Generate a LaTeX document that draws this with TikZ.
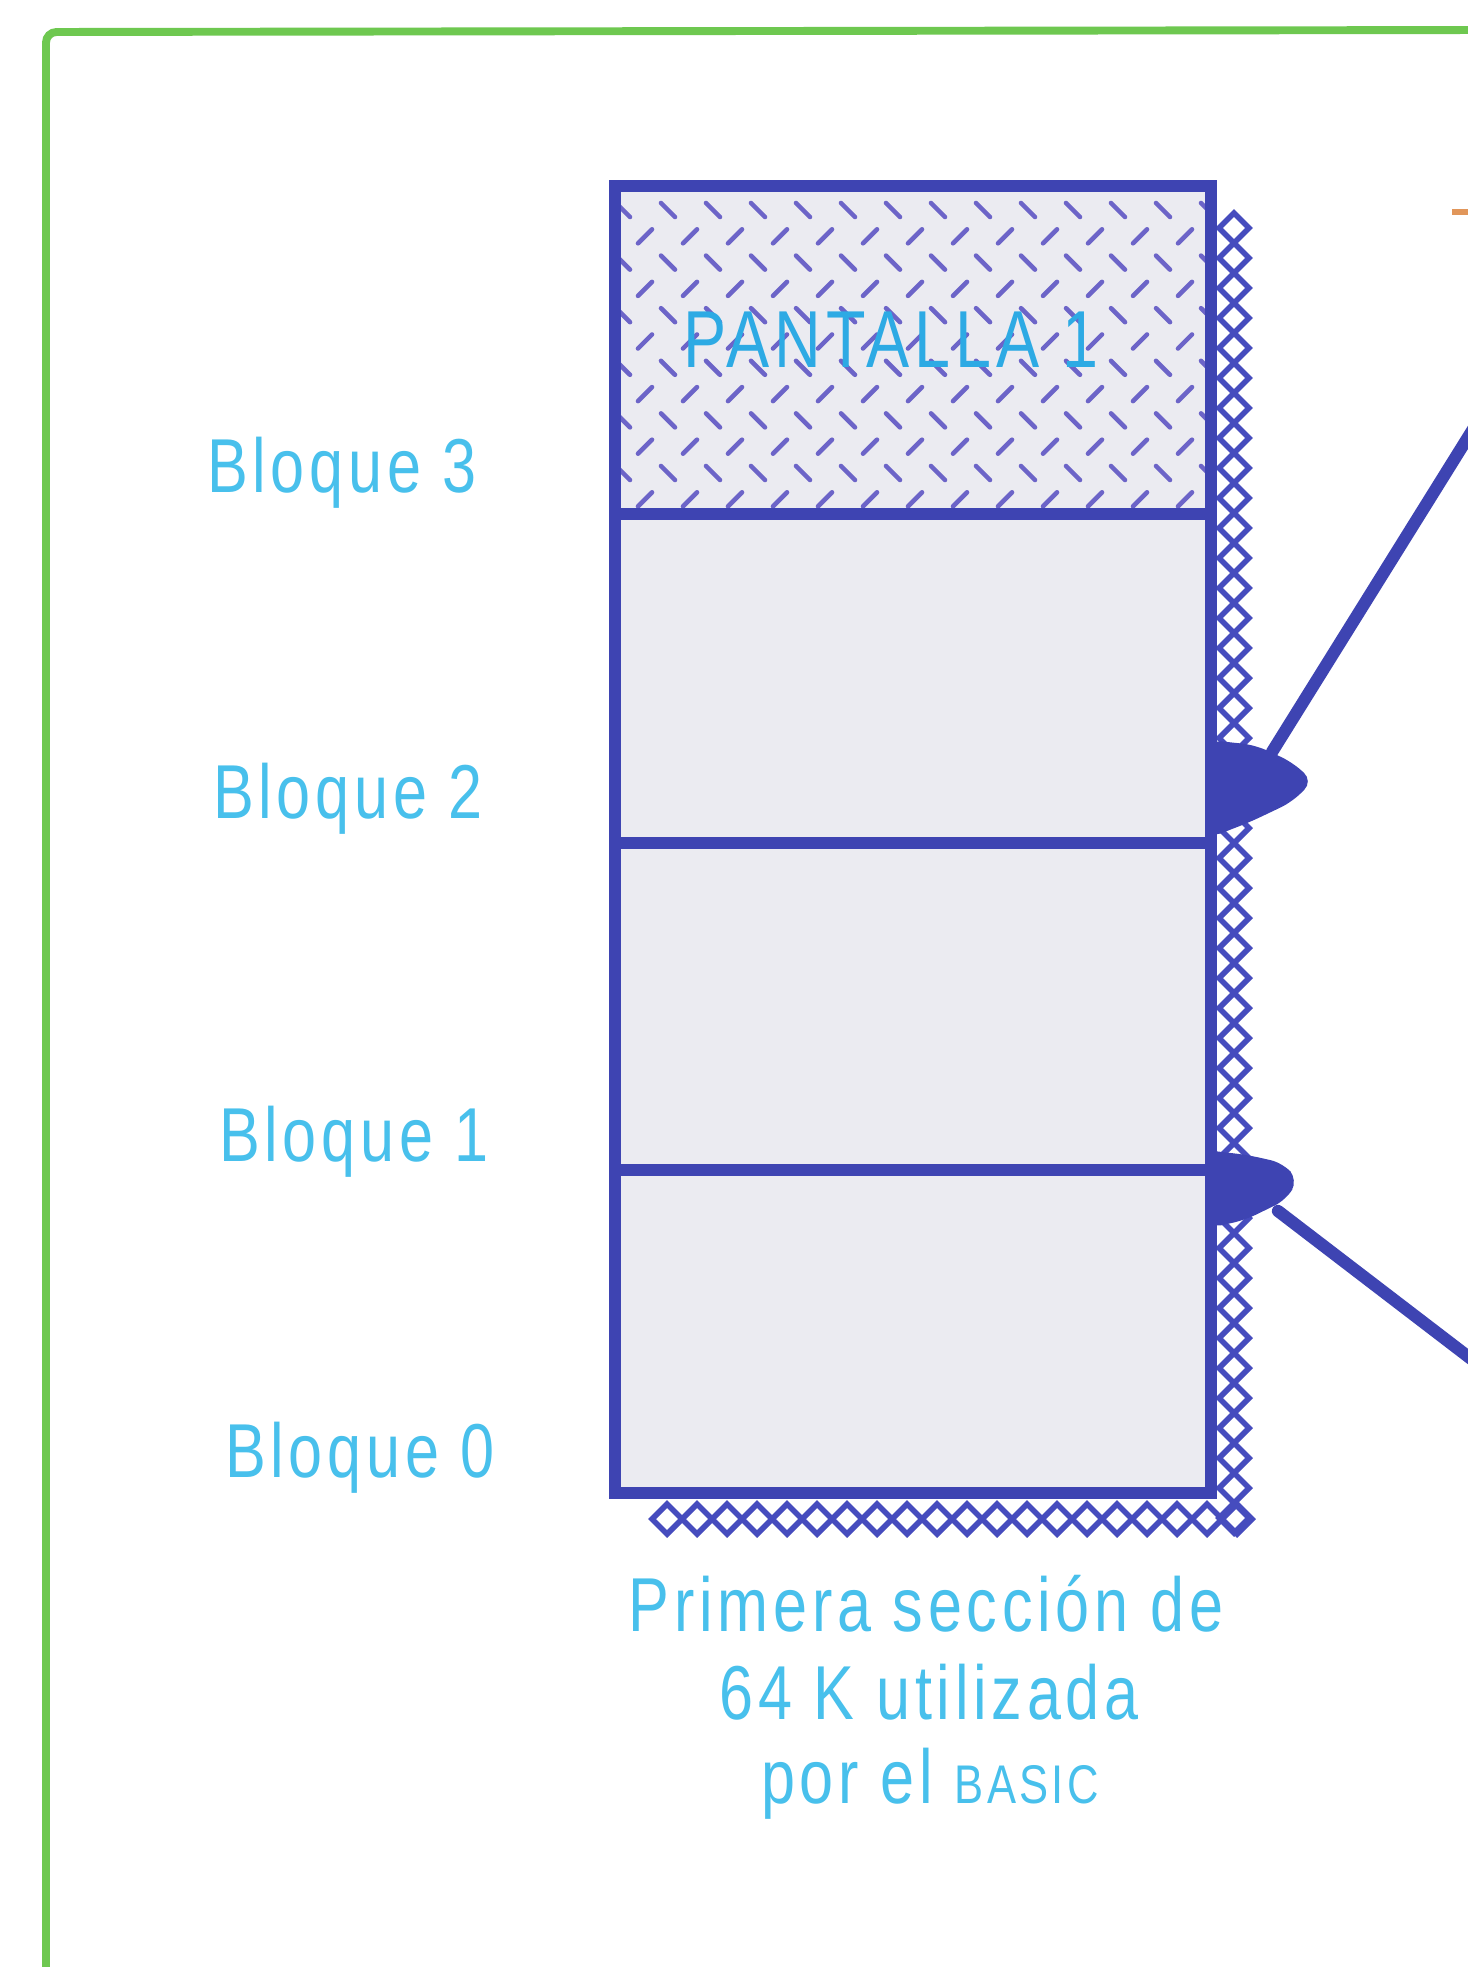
\documentclass[tikz,border=0pt]{standalone}
\usepackage{fontspec}
\setmainfont{Liberation Sans}[FakeStretch=0.8,LetterSpace=6.2]
\definecolor{txtcyan}{RGB}{72,192,236}
\definecolor{scrcyan}{RGB}{45,170,228}
\definecolor{boxblue}{RGB}{62,68,178}
\definecolor{hatchblue}{RGB}{108,100,200}
\definecolor{chainblue}{RGB}{70,76,190}
\definecolor{blockfill}{RGB}{235,235,241}
\definecolor{framegreen}{RGB}{110,200,80}
\definecolor{markorange}{RGB}{225,150,90}
\begin{document}
\begin{tikzpicture}[x=0.02cm,y=-0.02cm,
  frame/.style={draw=framegreen,line width=4.5pt,rounded corners=6pt},
  boxline/.style={draw=boxblue,line width=7pt},
  lbl/.style={text=txtcyan,font=\fontsize{43.5pt}{50pt}\selectfont,anchor=base,inner sep=0pt},
  hatchline/.style={draw=hatchblue,line width=2.6pt,line cap=round},
  chain/.style={draw=chainblue,line width=3.2pt},
  arrowline/.style={draw=boxblue,line width=7pt,line cap=round},
  blob/.style={fill=boxblue,rounded corners=7pt}
]
\useasboundingbox (0,0) rectangle (1467,1967);
\fill[white] (0,0) rectangle (1467,1967);

% green frame
\draw[frame] (46,1995) -- (46,32) -- (1495,30);
% orange mark
\draw[markorange,line width=3.5pt] (1452,212) -- (1480,212);

% shadow chain (right and bottom)
\foreach \i in {0,...,43}
  \draw[chain] (1219,{228+30*\i}) -- ++(15,-15) -- ++(15,15) -- ++(-15,15) -- cycle;
\foreach \i in {0,...,19}
  \draw[chain] ({652+30*\i},1519) -- ++(15,-15) -- ++(15,15) -- ++(-15,15) -- cycle;

% block fill
\fill[blockfill] (615,186) rectangle (1211,1493);

% hatch in top block
\begin{scope}
  \clip (621,192) rectangle (1205,508);
  \foreach \m in {0,...,5}{
    \foreach \j in {0,...,13}{
      \draw[hatchline] ({623+45*\j-7},{210+52.6*\m-7}) -- ++(14,14);
    }
    \foreach \j in {0,...,12}{
      \draw[hatchline] ({645+45*\j-7},{236.3+52.6*\m+7}) -- ++(14,-14);
    }
  }
\end{scope}

% box outline and dividers
\coordinate (tl) at (615,186);
\coordinate (br) at (1211,1493);
\draw[boxline] (tl) rectangle (br);
\coordinate (d3l) at (615,514);  \coordinate (d3r) at (1211,514);
\coordinate (d2l) at (615,843);  \coordinate (d2r) at (1211,843);
\coordinate (d1l) at (615,1170); \coordinate (d1r) at (1211,1170);
\draw[boxline] (d3l) -- (d3r);
\draw[boxline] (d2l) -- (d2r);
\draw[boxline] (d1l) -- (d1r);

% arrow blobs
\fill[blob] (1209,740) -- (1255,745) -- (1292,762) -- (1313,781) -- (1292,802) -- (1250,822) -- (1209,838) -- cycle;
\fill[blob] (1205,1150) -- (1248,1155) -- (1283,1163) -- (1298,1180) -- (1286,1200) -- (1245,1220) -- (1209,1228) -- cycle;

% arrow lines
\coordinate (u0) at (1485,410);
\coordinate (u1) at (1272,752);
\coordinate (l0) at (1500,1381);
\coordinate (l1) at (1278,1211);
\draw[arrowline] (u0) -- (u1);
\draw[arrowline] (l0) -- (l1);

% labels
\node[lbl,text=scrcyan,font=\fontsize{46pt}{52pt}\selectfont] (scr) at (891,367) {PANTALLA 1};
\node[lbl] (b3) at (342,492) {Bloque 3};
\node[lbl] (b2) at (348,818) {Bloque 2};
\node[lbl] (b1) at (354,1161) {Bloque 1};
\node[lbl] (b0) at (360,1477) {Bloque 0};
\node[lbl] (cap1) at (926,1631) {Primera sección de};
\node[lbl] (cap2) at (929,1719) {64 K utilizada};
\node[lbl] (cap3) at (930,1803) {por el {\fontsize{31pt}{36pt}\selectfont BASIC}};
\end{tikzpicture}
\end{document}
